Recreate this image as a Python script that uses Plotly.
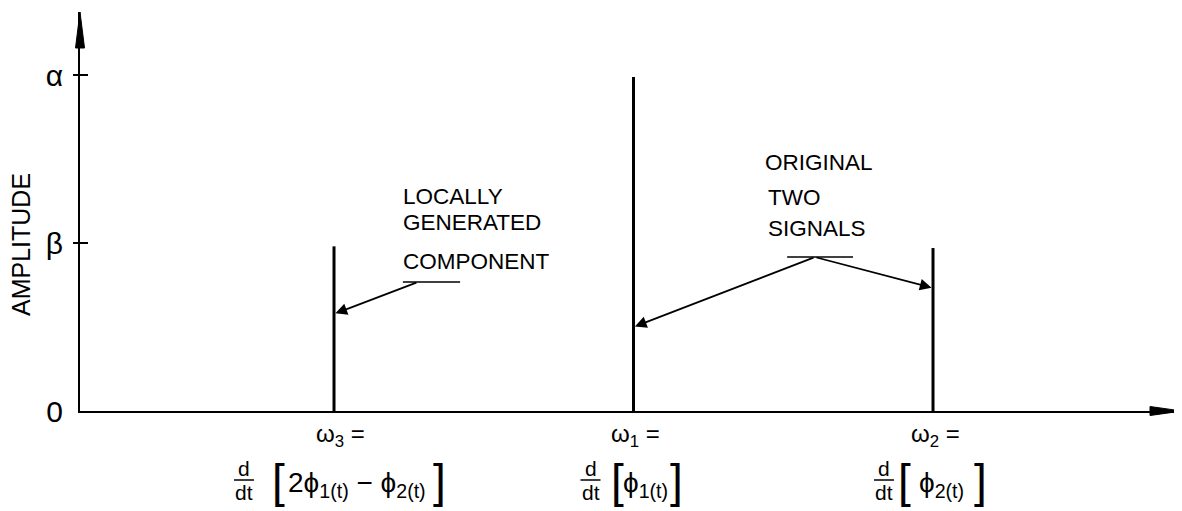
import plotly.graph_objects as go

# spectrum lines: position along the frequency axis and amplitude (alpha = 1)
freq_pos = [1, 2, 3]
amplitudes = [0.49, 0.994, 0.485]
freq_names = ["ω<sub>3</sub> =", "ω<sub>1</sub> =", "ω<sub>2</sub> ="]
bracket_text = ["2ϕ<sub>1(t)</sub> − ϕ<sub>2(t)</sub>", "ϕ<sub>1(t)</sub>", "ϕ<sub>2(t)</sub>"]

tick_vals = [0, 0.5, 1]
tick_text = ["0", "β", "α"]

FONT = "Liberation Sans, Arial, sans-serif"
PAD = 8  # browser body margin
W, H = 1182 - PAD, 511 - PAD
L, T, B = 80 - PAD, 12 - PAD, 100


def px(p):
    return (p - PAD - L) / (W - L)


def py(p):
    return (H - B - (p - PAD)) / (H - B - T)


xs, ys = [], []
for x, a in zip(freq_pos, amplitudes):
    xs += [x, x, None]
    ys += [0, a, None]

fig = go.Figure()
fig.add_trace(go.Scatter(x=xs, y=ys, mode="lines",
                         line=dict(color="black", width=3), hoverinfo="skip",
                         showlegend=False, cliponaxis=False))

annotations = []
shapes = []

# axis arrowheads
shapes.append(dict(type="path", xref="paper", yref="paper", xsizemode="pixel", ysizemode="pixel",
                   xanchor=0, yanchor=1, path="M0,0 L-4.5,-36 L4.5,-36 Z",
                   fillcolor="black", line=dict(color="black", width=1)))
shapes.append(dict(type="path", xref="paper", yref="paper", xsizemode="pixel", ysizemode="pixel",
                   xanchor=1, yanchor=0, path="M0,0 L-32,4.5 L-32,-4.5 Z",
                   fillcolor="black", line=dict(color="black", width=1)))

# cross ticks at alpha and beta
for v in tick_vals[1:]:
    shapes.append(dict(type="line", xref="paper", yref="y", xsizemode="pixel", xanchor=0,
                       x0=-7, x1=8, y0=v, y1=v, line=dict(color="black", width=2)))

annotations.append(dict(text="AMPLITUDE", textangle=-90, xref="paper", yref="paper",
                        x=px(21), y=py(245), xanchor="center", yanchor="middle", showarrow=False,
                        font=dict(family=FONT, size=25, color="black")))

# callout texts
for txt, lx, cy in [("LOCALLY", 401, 196), ("GENERATED", 401, 222), ("COMPONENT", 401, 261),
                    ("ORIGINAL", 763, 162), ("TWO", 766, 197), ("SIGNALS", 766, 228)]:
    annotations.append(dict(text=txt, xref="paper", yref="paper", x=px(lx), y=py(cy),
                            xanchor="left", yanchor="middle", showarrow=False,
                            font=dict(family=FONT, size=22.5, color="black")))

# underlines under callouts
shapes.append(dict(type="line", xref="x", yref="y", x0=1.23, x1=1.421, y0=0.384, y1=0.384,
                   line=dict(color="black", width=1.5)))
shapes.append(dict(type="line", xref="x", yref="y", x0=2.513, x1=2.733, y0=0.458, y1=0.458,
                   line=dict(color="black", width=1.5)))

# callout arrows: (tip x, tip y, tail x, tail y)
for tx, ty, ax, ay in [(1.0, 0.289, 1.28, 0.384),
                       (2.0, 0.25, 2.606, 0.458),
                       (3.0, 0.366, 2.606, 0.458)]:
    annotations.append(dict(text="", x=tx, y=ty, ax=ax, ay=ay, xref="x", yref="y",
                            axref="x", ayref="y", showarrow=True, arrowhead=2,
                            arrowsize=1.3, arrowwidth=1.8, arrowcolor="black", standoff=1.5))

# formula offsets (pixels from each spectral line)
label_off = [dict(w=6, frac=-90, lb=-56, rb=105, body=23),
             dict(w=2, frac=-43, lb=-16, rb=43, body=12),
             dict(w=2, frac=-49, lb=-29, rb=47, body=8)]

for x, name, body, o in zip(freq_pos, freq_names, bracket_text, label_off):
    common = dict(xref="x", yref="paper", x=x, showarrow=False, xanchor="center", yanchor="middle")
    annotations.append(dict(text=name, y=py(435), xshift=o["w"],
                            font=dict(family=FONT, size=24, color="black"), **common))
    annotations.append(dict(text="d", y=py(469), xshift=o["frac"],
                            font=dict(family=FONT, size=21, color="black"), **common))
    annotations.append(dict(text="dt", y=py(492), xshift=o["frac"],
                            font=dict(family=FONT, size=21, color="black"), **common))
    annotations.append(dict(text="[", y=py(481), xshift=o["lb"],
                            font=dict(family=FONT, size=46, color="black"), **common))
    annotations.append(dict(text="]", y=py(481), xshift=o["rb"],
                            font=dict(family=FONT, size=46, color="black"), **common))
    annotations.append(dict(text=body, y=py(484), xshift=o["body"],
                            font=dict(family=FONT, size=28, color="black"), **common))
    shapes.append(dict(type="line", xref="x", yref="paper", xsizemode="pixel", xanchor=x,
                       x0=o["frac"] - 10, x1=o["frac"] + 10, y0=py(480), y1=py(480),
                       line=dict(color="black", width=1.5)))

fig.update_layout(
    width=W, height=H,
    margin=dict(l=L, r=0, t=T, b=B),
    paper_bgcolor="white", plot_bgcolor="white",
    showlegend=False,
    xaxis=dict(range=[0.1519, 0.1519 + (W - L) / 299.5], showgrid=False, zeroline=False,
               showticklabels=False, ticks="", showline=True, linecolor="black", linewidth=2),
    yaxis=dict(range=[0, (H - B - T) / 336], showgrid=False, zeroline=False,
               tickvals=tick_vals, ticktext=tick_text, ticks="", ticklabelstandoff=9,
               tickfont=dict(family=FONT, size=30, color="black"),
               showline=True, linecolor="black", linewidth=2),
    annotations=annotations,
    shapes=shapes,
)

fig.write_html("out.html")
